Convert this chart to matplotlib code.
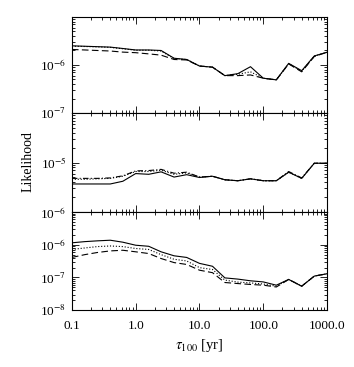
import numpy as np
import matplotlib
matplotlib.use('Agg')
import matplotlib.pyplot as plt
from matplotlib.ticker import LogLocator, NullFormatter

plt.rcParams['font.family'] = ['Liberation Serif', 'DejaVu Serif']
plt.rcParams['mathtext.fontset'] = 'stix'

# tau_100 grid [yr]
tau = [0.1, 0.16, 0.25, 0.4, 0.63, 1.0, 1.6, 2.5, 4.0, 6.3, 10, 16, 25, 40,
       63, 100, 160, 250, 400, 630, 1000]

# top panel (x 1e-6)
top_solid = [2.5, 2.45, 2.4, 2.35, 2.2, 2.05, 2.05, 2.0, 1.38, 1.3, 0.95, 0.9,
             0.6, 0.66, 0.92, 0.53, 0.49, 1.08, 0.76, 1.54, 1.84]
top_dot = [2.45, 2.42, 2.38, 2.32, 2.17, 2.02, 2.02, 1.95, 1.35, 1.3, 0.95, 0.9,
           0.6, 0.64, 0.72, 0.53, 0.49, 1.06, 0.74, 1.52, 1.84]
top_dash = [2.1, 2.05, 2.0, 1.95, 1.85, 1.8, 1.7, 1.6, 1.3, 1.27, 0.95, 0.9,
            0.6, 0.6, 0.62, 0.53, 0.49, 1.05, 0.72, 1.5, 1.84]

# middle panel (x 1e-6)
mid_solid = [3.7, 3.7, 3.7, 3.7, 4.2, 6.0, 5.8, 6.5, 5.1, 5.7, 5.0, 5.3,
             4.5, 4.3, 4.7, 4.3, 4.3, 6.4, 4.8, 9.7, 9.7]
mid_dot = [4.6, 4.6, 4.7, 4.8, 5.3, 6.6, 6.6, 7.0, 5.8, 6.2, 5.1, 5.3,
           4.5, 4.3, 4.7, 4.3, 4.3, 6.4, 4.8, 9.7, 9.7]
mid_dashdot = [4.8, 4.8, 4.8, 4.9, 5.4, 6.8, 6.9, 7.3, 6.1, 6.4, 5.1, 5.3,
               4.5, 4.3, 4.7, 4.3, 4.3, 6.6, 4.9, 9.7, 9.7]

# bottom panel (x 1e-7)
bot_solid = [11.5, 12.5, 13.2, 13.8, 12.0, 9.7, 9.0, 6.1, 4.6, 4.1, 2.7, 2.2,
             0.97, 0.89, 0.79, 0.73, 0.58, 0.87, 0.54, 1.1, 1.3]
bot_dot = [7.2, 8.0, 8.8, 9.2, 8.8, 7.7, 7.2, 5.0, 3.6, 3.2, 2.0, 1.75,
           0.83, 0.72, 0.68, 0.63, 0.54, 0.87, 0.54, 1.1, 1.3]
bot_dash = [4.1, 5.0, 5.8, 6.5, 6.8, 6.1, 5.4, 3.8, 2.85, 2.5, 1.67, 1.4,
            0.70, 0.65, 0.61, 0.58, 0.51, 0.87, 0.54, 1.1, 1.3]

xticks = [0.1, 1.0, 10.0, 100.0, 1000.0]
xlabels = ['0.1', '1.0', '10.0', '100.0', '1000.0']

fig = plt.figure(figsize=(3.54, 3.67), dpi=100)
left, width = 0.203, 0.721
ax1 = fig.add_axes([left, 0.692, width, 0.262])
ax2 = fig.add_axes([left, 0.422, width, 0.270])
ax3 = fig.add_axes([left, 0.155, width, 0.267])

lw = 0.8
t = np.array(tau)
ax1.plot(t, np.array(top_solid) * 1e-6, 'k-', lw=lw)
ax1.plot(t, np.array(top_dot) * 1e-6, 'k:', lw=lw)
ax1.plot(t, np.array(top_dash) * 1e-6, 'k', lw=lw, dashes=(6, 3))

ax2.plot(t, np.array(mid_solid) * 1e-6, 'k-', lw=lw)
ax2.plot(t, np.array(mid_dot) * 1e-6, 'k:', lw=lw)
ax2.plot(t, np.array(mid_dashdot) * 1e-6, 'k', lw=lw, dashes=(5, 2, 1, 2))

ax3.plot(t, np.array(bot_solid) * 1e-7, 'k-', lw=lw)
ax3.plot(t, np.array(bot_dot) * 1e-7, 'k:', lw=lw)
ax3.plot(t, np.array(bot_dash) * 1e-7, 'k', lw=lw, dashes=(6, 3))

ylims = [(1e-7, 1e-5), (1e-6, 1e-4), (1e-8, 1e-5)]
yticks = [[1e-7, 1e-6], [1e-6, 1e-5], [1e-8, 1e-7, 1e-6]]
for ax, yl, yt in zip([ax1, ax2, ax3], ylims, yticks):
    ax.set_xscale('log')
    ax.set_yscale('log')
    ax.set_xlim(0.1, 1000)
    ax.set_ylim(*yl)
    ax.set_yticks(yt)
    ax.set_yticklabels([r'10$^{%d}$' % int(round(np.log10(v))) for v in yt])
    ax.yaxis.set_minor_locator(LogLocator(base=10, subs=np.arange(2, 10), numticks=20))
    ax.yaxis.set_minor_formatter(NullFormatter())
    ax.set_xticks(xticks)
    ax.xaxis.set_minor_locator(LogLocator(base=10, subs=np.arange(2, 10), numticks=20))
    ax.xaxis.set_minor_formatter(NullFormatter())
    ax.tick_params(which='both', direction='in', top=True, right=True,
                   labelsize=9.5, width=0.6)
    ax.tick_params(which='major', length=5)
    ax.tick_params(which='minor', length=2.5)
    for sp in ax.spines.values():
        sp.set_linewidth(0.8)
    if ax is ax3:
        ax.set_xticklabels(xlabels)
    else:
        ax.set_xticklabels([])
    ax.tick_params(axis='x', pad=7)
    ax.tick_params(axis='y', pad=4)

ax3.set_xlabel(r'$\tau_{100}$ [yr]', fontsize=10.5, labelpad=4)
fig.text(0.08, 0.56, 'Likelihood', rotation=90, ha='center', va='center',
         fontsize=10)

fig.savefig('out.png', dpi=100)
